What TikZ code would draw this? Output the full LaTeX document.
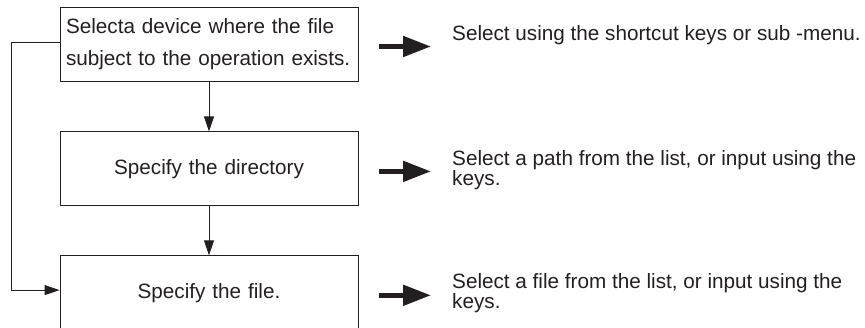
\documentclass[tikz,border=0pt]{standalone}
\usepackage{fontspec}
\setmainfont{Liberation Sans}
\usepackage{tikz}
\usetikzlibrary{arrows.meta,positioning}
\definecolor{inkdark}{HTML}{231F20}

\begin{document}
\begin{tikzpicture}[
  node distance=50pt and 94pt,
  box/.style={draw=inkdark, line width=0.9pt, text=inkdark, minimum height=74pt, text width=286pt, inner xsep=6pt, font=\fontsize{20.7pt}{32pt}\selectfont},
  note/.style={text=inkdark, inner sep=0pt, anchor=west, align=left, font=\fontsize{20.7pt}{19.5pt}\selectfont},
  arrow/.style={-{Triangle[length=15pt,width=10pt]}, line width=0.9pt, color=inkdark},
  bigarrow/.style={-{Triangle[length=28pt,width=20pt]}, line width=5pt, color=inkdark, shorten <=21pt, shorten >=21pt}
]
\useasboundingbox (0,0) rectangle (865pt,-327pt);
\clip (0,0) rectangle (865pt,-327pt);
\node[box, align=left] (dev) at (209pt,-44pt) {Selecta device where the file\\subject to the operation exists.};
\node[box, align=center, below=of dev] (dir) {Specify the directory};
\node[box, align=center, below=49pt of dir] (fil) {Specify the file.};
\node[note] (n1) at (452pt,-35.3pt) {Select using the shortcut keys or sub -menu.};
\node[note] (n2) at (452pt,-170pt) {Select a path from the list, or input using the\\keys.};
\node[note] (n3) at (452pt,-293.3pt) {Select a file from the list, or input using the\\keys.};
\draw[arrow] (dev) -- (dir);
\draw[arrow] (dir) -- (fil);
\draw[arrow] ([yshift=1.7pt]dev.west) -- ++(-48.3pt,0) |- ([yshift=2.7pt]fil.west);
\draw[bigarrow] ([yshift=-2.5pt]dev.east) -- ([yshift=-2.5pt]dev.east -| n1.west);
\draw[bigarrow] ([yshift=-2.5pt]dir.east) -- ([yshift=-2.5pt]dir.east -| n2.west);
\draw[bigarrow] ([yshift=-2.5pt]fil.east) -- ([yshift=-2.5pt]fil.east -| n3.west);
\end{tikzpicture}
\end{document}
